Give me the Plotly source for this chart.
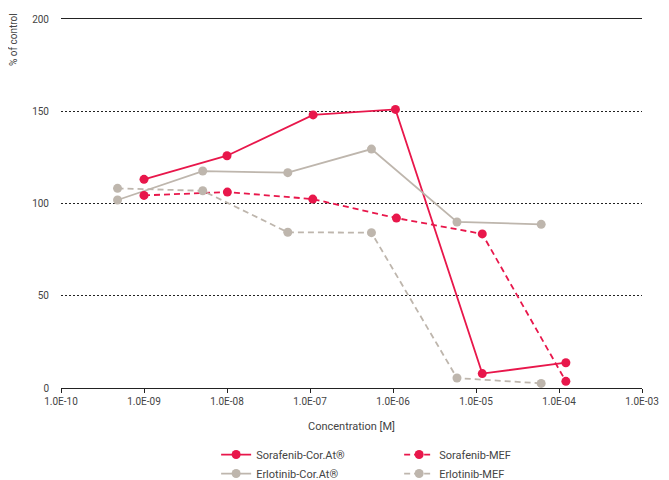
import plotly.graph_objects as go

# Data (concentration in M, response in % of control)
sora_cor_x = [1.0e-9, 1.0e-8, 1.09e-7, 1.07e-6, 1.19e-5, 1.21e-4]
sora_cor_y = [113.1, 125.9, 148.0, 151.0, 7.8, 13.7]
sora_mef_x = [1.0e-9, 1.01e-8, 1.08e-7, 1.1e-6, 1.19e-5, 1.21e-4]
sora_mef_y = [104.4, 106.2, 102.4, 92.1, 83.5, 3.6]
erlo_cor_x = [4.8e-10, 5.1e-9, 5.4e-8, 5.5e-7, 5.9e-6, 6.1e-5]
erlo_cor_y = [101.9, 117.6, 116.7, 129.5, 90.0, 88.7]
erlo_mef_x = [4.8e-10, 5.1e-9, 5.4e-8, 5.5e-7, 5.9e-6, 6.1e-5]
erlo_mef_y = [108.2, 106.9, 84.4, 84.2, 5.4, 2.5]

x_tickvals = [1e-10, 1e-9, 1e-8, 1e-7, 1e-6, 1e-5, 1e-4, 1e-3]
x_ticktext = ["1.0E-10", "1.0E-09", "1.0E-08", "1.0E-07", "1.0E-06", "1.0E-05", "1.0E-04", "1.0E-03"]
y_tickvals = [0, 50, 100, 150, 200]

RED = "#E8174B"
GRAY = "#BEB6AD"
FONT = "Roboto, 'Liberation Sans', sans-serif"
TXT = "#444444"

fig = go.Figure()
fig.add_trace(go.Scatter(x=sora_cor_x, y=sora_cor_y, name="Sorafenib-Cor.At®", mode="lines+markers",
                         line=dict(color=RED, width=1.8), marker=dict(size=9, color=RED), legend="legend"))
fig.add_trace(go.Scatter(x=erlo_cor_x, y=erlo_cor_y, name="Erlotinib-Cor.At®", mode="lines+markers",
                         line=dict(color=GRAY, width=1.8), marker=dict(size=9, color=GRAY), legend="legend"))
fig.add_trace(go.Scatter(x=sora_mef_x, y=sora_mef_y, name="Sorafenib-MEF", mode="lines+markers",
                         line=dict(color=RED, width=1.8, dash="6px,4px"), marker=dict(size=9, color=RED), legend="legend2"))
fig.add_trace(go.Scatter(x=erlo_mef_x, y=erlo_mef_y, name="Erlotinib-MEF", mode="lines+markers",
                         line=dict(color=GRAY, width=1.8, dash="6px,4px"), marker=dict(size=9, color=GRAY), legend="legend2"))

legend_common = dict(orientation="v", xanchor="left", yanchor="top", y=-0.141,
                     font=dict(family=FONT, size=11, color=TXT), bgcolor="rgba(0,0,0,0)",
                     tracegroupgap=0, itemwidth=30)

fig.update_layout(
    width=661, height=472,
    margin=dict(l=53, r=27, t=11, b=92, autoexpand=False),
    paper_bgcolor="white", plot_bgcolor="white",
    font=dict(family=FONT, size=10, color=TXT),
    showlegend=True,
    legend=dict(x=0.267, **legend_common),
    legend2=dict(x=0.582, **legend_common),
    xaxis=dict(type="log", range=[-10, -3], tickvals=x_tickvals, ticktext=x_ticktext,
               showgrid=False, showline=True, linecolor="#222222", linewidth=1.2, mirror=True,
               ticks="outside", ticklen=4, tickcolor="#222222", tickwidth=1,
               tickfont=dict(size=10, color=TXT),
               title=dict(text="Concentration [M]", font=dict(size=11, color=TXT), standoff=16)),
    yaxis=dict(range=[0, 200], tickvals=y_tickvals, showgrid=True, gridcolor="#222222",
               griddash="2px,2px", gridwidth=1, zeroline=False, showline=False,
               ticks="outside", ticklen=9, tickcolor="rgba(0,0,0,0)",
               tickfont=dict(size=10, color=TXT)),
    annotations=[dict(text="% of control", textangle=-90, xref="paper", yref="paper",
                      x=-0.082, y=0.944, xanchor="center", yanchor="middle", showarrow=False,
                      font=dict(family=FONT, size=10, color=TXT))],
)

fig.write_html("out.html")
